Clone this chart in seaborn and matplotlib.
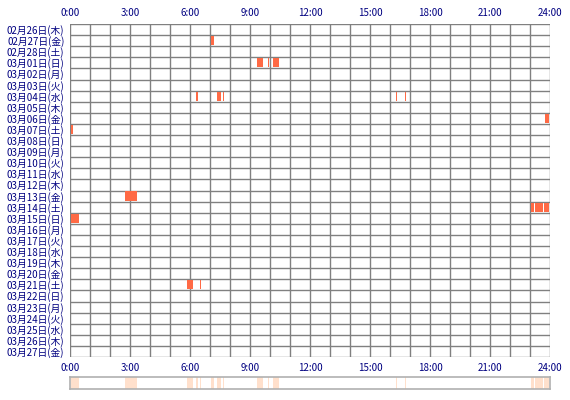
import matplotlib
matplotlib.use("Agg")
import matplotlib.pyplot as plt
import seaborn as sns
import pandas as pd

sns.set_style("white")
plt.rcParams['font.family'] = ['Noto Sans CJK JP', 'DejaVu Sans']

dates = ["02月26日(木)", "02月27日(金)", "02月28日(土)", "03月01日(日)", "03月02日(月)",
         "03月03日(火)", "03月04日(水)", "03月05日(木)", "03月06日(金)", "03月07日(土)",
         "03月08日(日)", "03月09日(月)", "03月10日(火)", "03月11日(水)", "03月12日(木)",
         "03月13日(金)", "03月14日(土)", "03月15日(日)", "03月16日(月)", "03月17日(火)",
         "03月18日(水)", "03月19日(木)", "03月20日(金)", "03月21日(土)", "03月22日(日)",
         "03月23日(月)", "03月24日(火)", "03月25日(水)", "03月26日(木)", "03月27日(金)"]

# events: (row index, start hour, end hour)
ev_row = [1, 3, 3, 3, 6, 6, 6, 6, 6, 8, 9, 15, 16, 16, 16, 17, 23, 23]
ev_start = [7.05, 9.35, 9.9, 10.15, 6.3, 7.35, 7.65, 16.3, 16.75, 23.75, 0.05,
            2.75, 23.05, 23.25, 23.7, 0.05, 5.85, 6.5]
ev_end = [7.2, 9.65, 9.95, 10.45, 6.4, 7.55, 7.7, 16.35, 16.8, 23.95, 0.15,
          3.35, 23.2, 23.65, 23.95, 0.45, 6.15, 6.55]
ev = pd.DataFrame({"row": ev_row, "start": ev_start, "end": ev_end})

hour_ticks = [0, 3, 6, 9, 12, 15, 18, 21, 24]
hour_labels = ["0:00", "3:00", "6:00", "9:00", "12:00", "15:00", "18:00", "21:00", "24:00"]
navy = "#000080"

fig = plt.figure(figsize=(5.7, 4.0), dpi=100)
ax = fig.add_axes([70 / 570, 1 - 357 / 400, 480 / 570, 333 / 400])
n = len(dates)
for h in range(25):
    ax.axvline(h, color="#808080", lw=1.0, zorder=1)
for r in range(n + 1):
    ax.axhline(r, color="#808080", lw=1.0, zorder=1)
ax.barh(ev["row"] + 0.5, ev["end"] - ev["start"], left=ev["start"], height=0.82,
        color="#FF6A45", linewidth=0, zorder=3)
ax.set_xlim(0, 24)
ax.set_ylim(n, 0)
ax.set_yticks([i + 0.5 for i in range(n)])
ax.set_yticklabels(dates, fontsize=7, color=navy)
ax.set_xticks(hour_ticks)
ax.set_xticklabels(hour_labels, fontsize=7, color=navy)
ax.tick_params(top=True, labeltop=True, length=0, pad=4)
for s in ax.spines.values():
    s.set_visible(False)

# summary strip
ax2 = fig.add_axes([70 / 570, 1 - 389 / 400, 480 / 570, 12 / 400])
ax2.barh(0.5, ev["end"] - ev["start"], left=ev["start"], height=1.0,
         color="#FFE0CC", linewidth=0)
ax2.set_xlim(0, 24)
ax2.set_ylim(0, 1)
ax2.set_xticks([])
ax2.set_yticks([])
for s in ax2.spines.values():
    s.set_color("#B0B0B0")
    s.set_linewidth(1.2)

fig.savefig("out.png", dpi=100)
